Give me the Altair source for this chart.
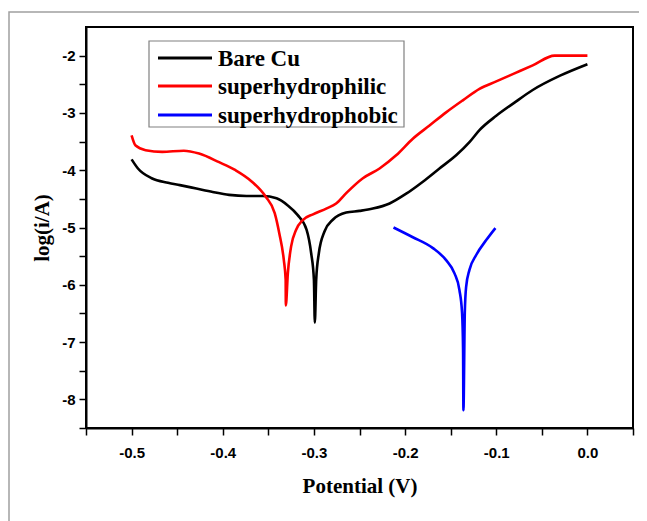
import altair as alt
import pandas as pd

series_names = ["Bare Cu", "superhydrophilic", "superhydrophobic"]
series_colors = ["#000000", "#ff0000", "#0000ff"]

bare_x = [-0.5, -0.493, -0.478, -0.46, -0.447, -0.429, -0.411, -0.393, -0.374, -0.356,
          -0.341, -0.329, -0.318, -0.308, -0.303, -0.300, -0.299, -0.2975, -0.2946, -0.2884,
          -0.279, -0.2646, -0.25, -0.2354, -0.217, -0.1988, -0.1805, -0.1623, -0.144, -0.1294,
          -0.1184, -0.1, -0.08, -0.06, -0.03, 0.0]
bare_y = [-3.81, -3.97, -4.14, -4.22, -4.26, -4.32, -4.38, -4.43, -4.45, -4.45,
          -4.49, -4.61, -4.78, -5.04, -5.45, -5.91, -6.66, -5.91, -5.45, -5.07,
          -4.86, -4.74, -4.71, -4.67, -4.58, -4.41, -4.20, -3.97, -3.74, -3.51,
          -3.30, -3.05, -2.82, -2.60, -2.35, -2.15]

philic_x = [-0.5, -0.4956, -0.4846, -0.4664, -0.4427, -0.426, -0.404, -0.386, -0.368, -0.353,
            -0.343, -0.338, -0.333, -0.331, -0.3308, -0.3286, -0.325, -0.3195, -0.3122, -0.301,
            -0.2865, -0.2756, -0.2646, -0.2463, -0.228, -0.2098, -0.1915, -0.1732, -0.155, -0.1367,
            -0.1184, -0.1, -0.08, -0.06, -0.036, 0.0]
philic_y = [-3.39, -3.57, -3.65, -3.68, -3.66, -3.71, -3.86, -4.00, -4.20, -4.46,
            -4.75, -5.10, -5.57, -5.91, -6.36, -5.80, -5.33, -5.04, -4.87, -4.77,
            -4.67, -4.58, -4.40, -4.14, -3.97, -3.74, -3.45, -3.22, -2.99, -2.78,
            -2.58, -2.45, -2.31, -2.17, -2.0, -2.0]

phobic_x = [-0.2127, -0.1915, -0.1695, -0.155, -0.1458, -0.1404, -0.1375, -0.1364, -0.136,
            -0.1345, -0.133, -0.1294, -0.122, -0.111, -0.1009]
phobic_y = [-5.0, -5.17, -5.36, -5.57, -5.80, -6.09, -6.49, -7.13, -8.19,
            -6.49, -6.03, -5.74, -5.48, -5.22, -5.01]

x_ticks = [-0.55, -0.5, -0.45, -0.4, -0.35, -0.3, -0.25, -0.2, -0.15, -0.1, -0.05, 0.0, 0.05]
y_ticks = [-8.5, -8, -7.5, -7, -6.5, -6, -5.5, -5, -4.5, -4, -3.5, -3, -2.5, -2]

rows = []
for name, xs, ys in zip(series_names, [bare_x, philic_x, phobic_x], [bare_y, philic_y, phobic_y]):
    for i, (xv, yv) in enumerate(zip(xs, ys)):
        rows.append({"series": name, "E": xv, "logi": yv, "order": i})
df = pd.DataFrame(rows)

W, H = 547, 401

x_label_expr = ("abs(datum.value*10 - round(datum.value*10)) < 0.001 ? "
                "(datum.value < -0.001 ? '-' : '') + format(abs(datum.value), '.1f') : ''")
y_label_expr = ("abs(datum.value - round(datum.value)) < 0.001 ? "
                "(datum.value < -0.001 ? '-' : '') + format(abs(datum.value), 'd') : ''")

lines = alt.Chart(df).mark_line(strokeWidth=2.6, clip=True, interpolate="monotone").encode(
    x=alt.X("E:Q", scale=alt.Scale(domain=[-0.55, 0.05], nice=False, zero=False),
            axis=alt.Axis(values=x_ticks, labelExpr=x_label_expr, title="Potential (V)",
                          labelPadding=10, titlePadding=15)),
    y=alt.Y("logi:Q", scale=alt.Scale(domain=[-8.5, -1.5], nice=False, zero=False),
            axis=alt.Axis(values=y_ticks, labelExpr=y_label_expr, title="log(i/A)",
                          labelPadding=4, titlePadding=9)),
    color=alt.Color("series:N", scale=alt.Scale(domain=series_names, range=series_colors), legend=None),
    order="order:Q",
    detail="series:N",
)

one = alt.Data(values=[{"k": 1}])

outer = alt.Chart(one).mark_rect(fillOpacity=0, stroke="#a0a0a0", strokeWidth=1.5, clip=False).encode(
    x=alt.value(-77), x2=alt.value(580), y=alt.value(-15), y2=alt.value(510))

legend_box = alt.Chart(one).mark_rect(fill="white", stroke="#808080", strokeWidth=1.2).encode(
    x=alt.value(63), x2=alt.value(318), y=alt.value(14), y2=alt.value(100))

legend_layers = [legend_box]
row_y = [31, 59, 88]
for name, col, ry in zip(series_names, series_colors, row_y):
    legend_layers.append(
        alt.Chart(one).mark_rule(color=col, strokeWidth=3).encode(
            x=alt.value(72), x2=alt.value(126), y=alt.value(ry)))
    legend_layers.append(
        alt.Chart(one).mark_text(align="left", baseline="middle", font="Liberation Serif",
                                 fontWeight="bold", fontSize=23, color="black", text=name).encode(
            x=alt.value(132), y=alt.value(ry + 1)))

chart = alt.layer(outer, lines, *legend_layers).properties(
    width=W, height=H,
    padding={"left": 78, "top": 19, "right": 6, "bottom": 93},
    autosize=alt.AutoSizeParams(type="none"),
).configure_view(
    stroke="black", strokeWidth=2
).configure_axis(
    grid=False,
    domainColor="black", domainWidth=2,
    tickColor="black", tickWidth=1.5, tickSize=7,
    labelFont="Liberation Sans", labelFontWeight="bold", labelFontSize=15, labelColor="black",
    titleFont="Liberation Serif", titleFontWeight="bold", titleFontSize=21, titleColor="black",
)

chart.save("out.html", embed_options={"renderer": "svg", "actions": False})
